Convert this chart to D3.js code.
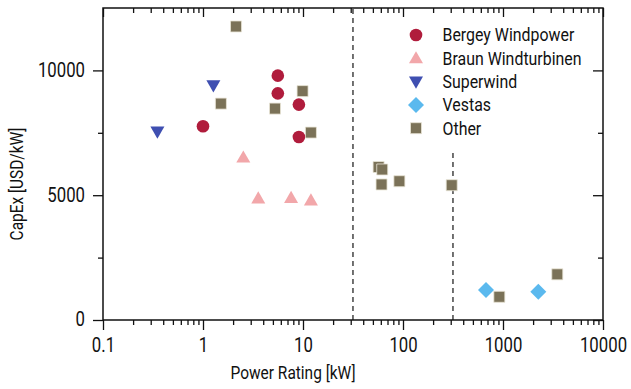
<!DOCTYPE html>
<html>
<head>
<meta charset="utf-8">
<script src="https://cdn.jsdelivr.net/npm/d3@7"></script>
<style>
  body { margin: 0; background: #fff; }
  svg { display: block; }
  text { font-family: Roboto, "Noto Sans", sans-serif; fill: #111; }
</style>
</head>
<body>
<div id="chart"></div>
<script>
// manufacturer series: power rating [kW] and capex [USD/kW]
const bergeyKW = [1.0, 5.6, 5.6, 9.1, 9.1];
const bergeyCapex = [7760, 9790, 9080, 8630, 7330];

const braunKW = [2.53, 3.57, 7.6, 12.0];
const braunCapex = [6470, 4830, 4850, 4750];

const superwindKW = [0.35, 1.27];
const superwindCapex = [7590, 9440];

const vestasKW = [676, 2256];
const vestasCapex = [1200, 1130];

const otherKW = [2.14, 1.51, 9.9, 5.25, 12.0, 57, 62, 61, 92, 307, 919, 3490];
const otherCapex = [11760, 8670, 9170, 8470, 7510, 6130, 6030, 5430, 5560, 5400, 930, 1830];

const dashedKW = [31.6, 316];
const dashedTopCapex = [12500, 6800];

const xTickValues = [0.1, 1, 10, 100, 1000, 10000];
const xTickLabels = ['0.1', '1', '10', '100', '1000', '10000'];
const yTickValues = [0, 5000, 10000];
const yMinorValues = [2500, 7500];

const seriesNames = ['Bergey Windpower', 'Braun Windturbinen', 'Superwind', 'Vestas', 'Other'];
const seriesColors = ['#b01c3c', '#f2a7aa', '#3f4fb1', '#5bb9ee', '#7b7258'];

const W = 631, H = 389;
const margin = { top: 8, right: 28, bottom: 69, left: 103 };
const SX = 0.86; // horizontal squeeze to mimic a condensed face

const svg = d3.select('#chart').append('svg')
  .attr('width', W).attr('height', H);

const x = d3.scaleLog().domain([0.1, 10000]).range([margin.left, W - margin.right]);
const y = d3.scaleLinear().domain([0, 12500]).range([H - margin.bottom, margin.top]);

const minorX = [];
for (let d = 0.1; d < 10000; d *= 10) {
  for (let k = 2; k <= 9; k++) minorX.push(+(d * k).toPrecision(3));
}

const x0 = margin.left, x1 = W - margin.right;
const y0 = H - margin.bottom, y1 = margin.top;

// dashed reference lines
svg.append('g').selectAll('line')
  .data(dashedKW)
  .enter().append('line')
  .attr('x1', (d) => x(d)).attr('x2', (d) => x(d))
  .attr('y1', y(0)).attr('y2', (d, i) => y(dashedTopCapex[i]))
  .attr('stroke', '#444').attr('stroke-width', 1.5)
  .attr('stroke-dasharray', '5,4');

function styleAxis(g) {
  g.select('.domain').remove();
  g.selectAll('line').attr('stroke', '#111').attr('stroke-width', 1.3);
}

// bottom axis
svg.append('g').attr('transform', `translate(0,${y0})`)
  .call(d3.axisBottom(x).tickValues(minorX).tickSize(5).tickFormat(''))
  .call(styleAxis);
const bx = svg.append('g').attr('transform', `translate(0,${y0})`)
  .call(d3.axisBottom(x).tickValues(xTickValues).tickSize(10)
    .tickFormat((d, i) => xTickLabels[i]).tickPadding(8))
  .call(styleAxis);
bx.selectAll('text')
  .attr('font-size', '19.5px')
  .attr('transform', `scale(${SX},1)`);

// top axis (ticks inward)
svg.append('g').attr('transform', `translate(0,${y1})`)
  .call(d3.axisBottom(x).tickValues(minorX).tickSize(5).tickFormat(''))
  .call(styleAxis);
svg.append('g').attr('transform', `translate(0,${y1})`)
  .call(d3.axisBottom(x).tickValues(xTickValues).tickSize(9).tickFormat(''))
  .call(styleAxis);

// left axis
svg.append('g').attr('transform', `translate(${x0},0)`)
  .call(d3.axisLeft(y).tickValues(yMinorValues).tickSize(5).tickFormat(''))
  .call(styleAxis);
const ly = svg.append('g').attr('transform', `translate(${x0},0)`)
  .call(d3.axisLeft(y).tickValues(yTickValues).tickSize(10).tickFormat(d3.format('d')).tickPadding(8))
  .call(styleAxis);
ly.selectAll('text')
  .attr('font-size', '19.5px')
  .attr('x', -18 / SX)
  .attr('dy', '0.3em')
  .attr('transform', `scale(${SX},1)`);

// right axis (ticks inward)
svg.append('g').attr('transform', `translate(${x1},0)`)
  .call(d3.axisLeft(y).tickValues(yMinorValues).tickSize(5).tickFormat(''))
  .call(styleAxis);
svg.append('g').attr('transform', `translate(${x1},0)`)
  .call(d3.axisLeft(y).tickValues(yTickValues).tickSize(10).tickFormat(''))
  .call(styleAxis);

// frame
svg.append('rect')
  .attr('x', x0).attr('y', y1)
  .attr('width', x1 - x0).attr('height', y0 - y1)
  .attr('fill', 'none').attr('stroke', '#111').attr('stroke-width', 1.5);

// markers
const symbolFor = [
  { type: d3.symbolCircle, size: 125, rot: 0 },
  { type: d3.symbolTriangle, size: 85, rot: 0 },
  { type: d3.symbolTriangle, size: 85, rot: 180 },
  { type: d3.symbolSquare, size: 128, rot: 45 },
  { type: d3.symbolSquare, size: 121, rot: 0 }
];

const series = [
  [bergeyKW, bergeyCapex],
  [braunKW, braunCapex],
  [superwindKW, superwindCapex],
  [vestasKW, vestasCapex],
  [otherKW, otherCapex]
];

const drawOrder = [4, 0, 1, 2, 3];
drawOrder.forEach((si) => {
  const [kw, capex] = series[si];
  const sym = symbolFor[si];
  const pts = kw.map((v, i) => ({ kw: v, capex: capex[i] }));
  svg.append('g').selectAll('path')
    .data(pts)
    .enter().append('path')
    .attr('d', d3.symbol().type(sym.type).size(sym.size))
    .attr('transform', (d) => `translate(${x(d.kw)},${y(d.capex)}) rotate(${sym.rot})`)
    .attr('fill', seriesColors[si])
    .attr('stroke', si === 4 ? '#e9e4d6' : 'none')
    .attr('stroke-width', 0.8);
});

// legend
const legend = svg.append('g').attr('transform', 'translate(416,35)');
seriesNames.forEach((name, i) => {
  const row = legend.append('g').attr('transform', `translate(0,${i * 23.3})`);
  const sym = symbolFor[i];
  row.append('path')
    .attr('d', d3.symbol().type(sym.type).size(sym.size))
    .attr('transform', `rotate(${sym.rot})` + (i === 1 || i === 2 ? ' translate(0,1)' : ''))
    .attr('fill', seriesColors[i])
    .attr('stroke', i === 4 ? '#e9e4d6' : 'none')
    .attr('stroke-width', 0.8);
  row.append('text')
    .attr('transform', `translate(26.5,0) scale(${SX},1)`)
    .attr('dy', '0.35em')
    .attr('font-size', '18.5px')
    .text(name);
});

// axis titles
svg.append('text')
  .attr('transform', `translate(293,379) scale(${SX},1)`)
  .attr('text-anchor', 'middle')
  .attr('font-size', '18px')
  .text('Power Rating [kW]');

svg.append('text')
  .attr('transform', `translate(23,184) rotate(-90) scale(${SX},1)`)
  .attr('text-anchor', 'middle')
  .attr('font-size', '18px')
  .text('CapEx [USD/kW]');
</script>
</body>
</html>
